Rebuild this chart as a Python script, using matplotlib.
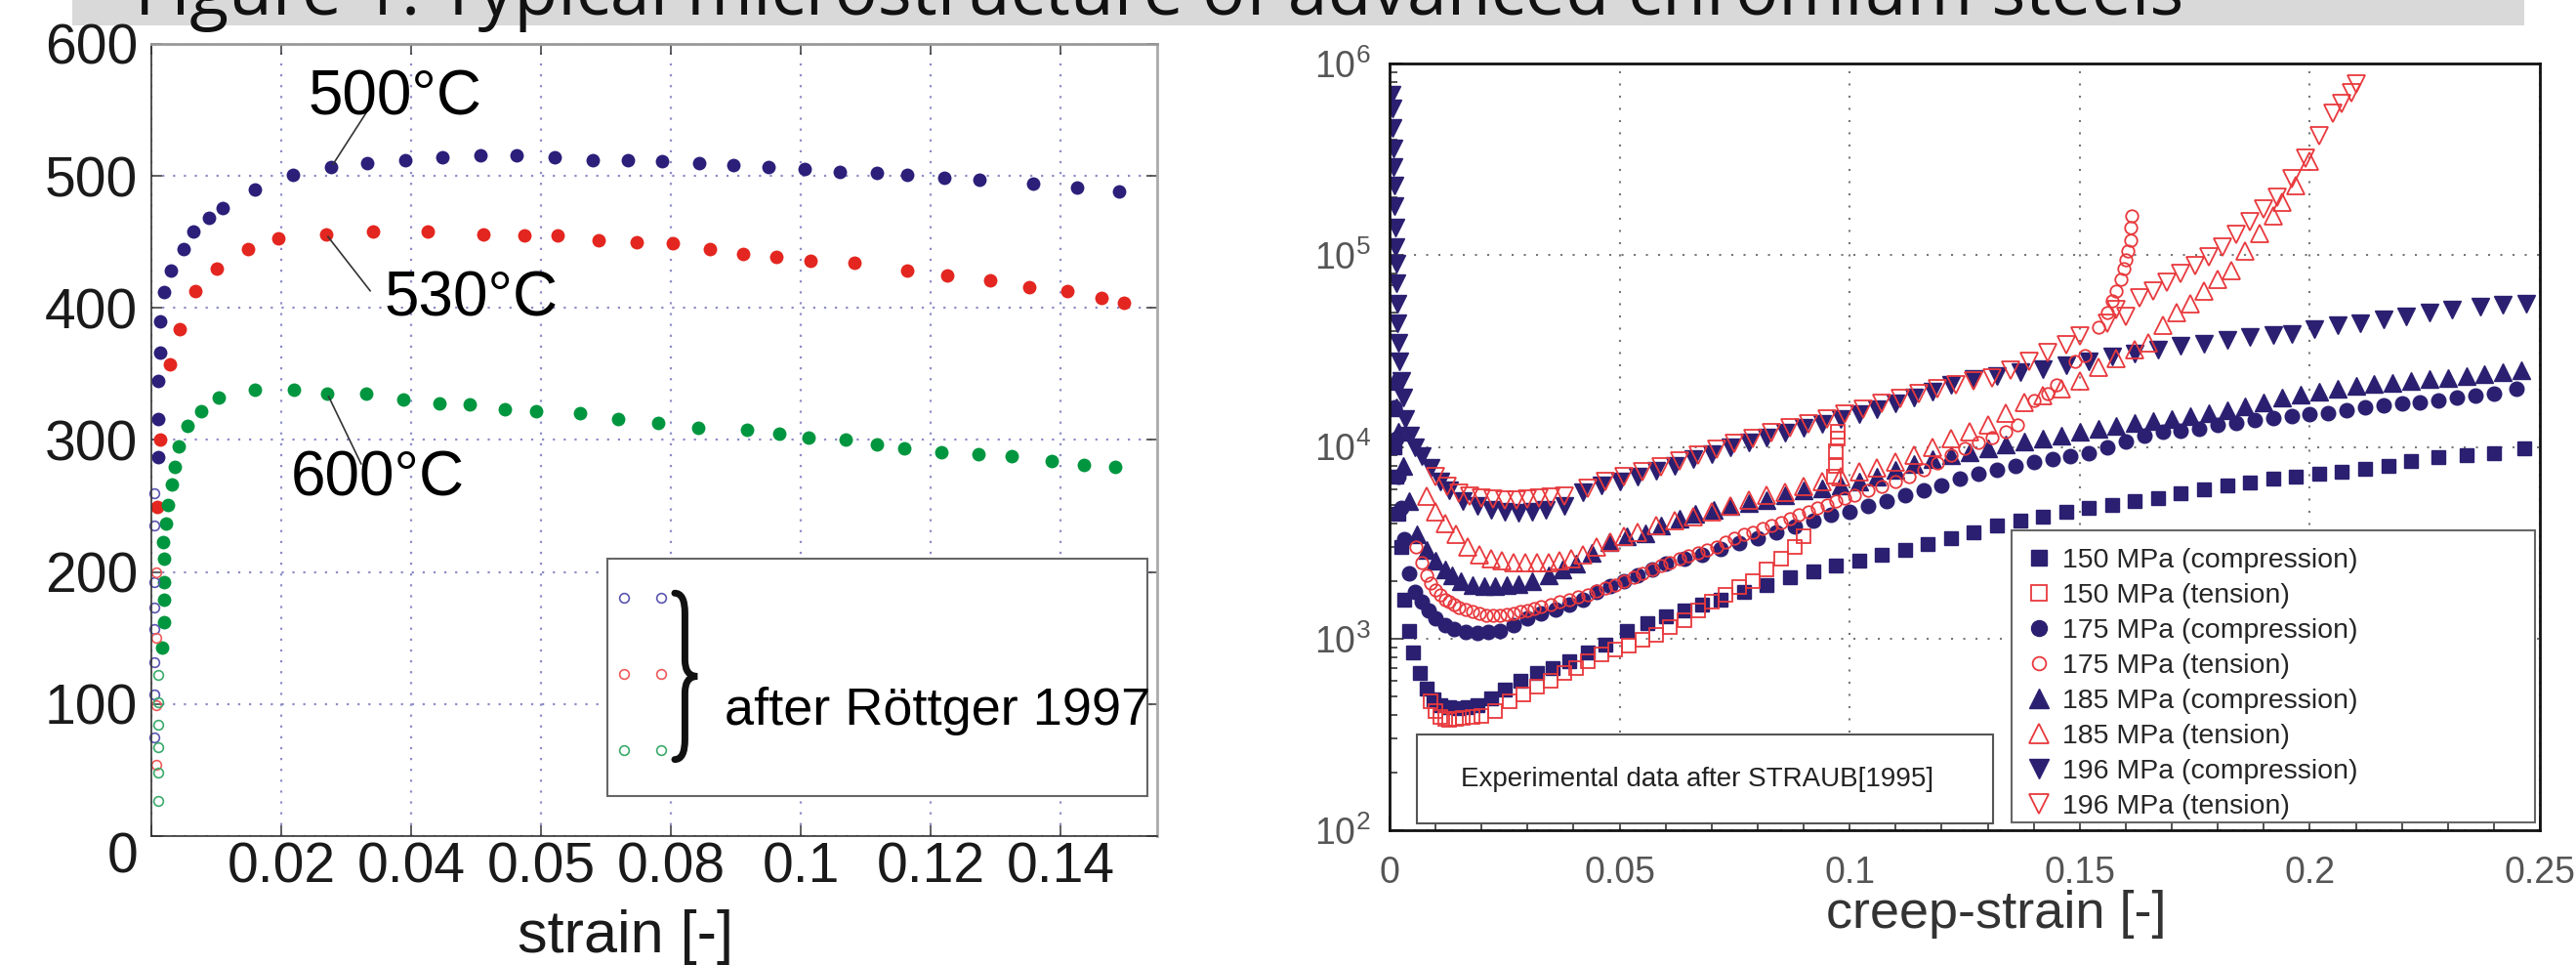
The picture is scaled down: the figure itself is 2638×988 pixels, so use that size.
import matplotlib
matplotlib.use("Agg")
import matplotlib.pyplot as plt
from matplotlib.patches import Rectangle, PathPatch
from matplotlib.path import Path
from matplotlib.ticker import MultipleLocator, LogLocator, NullFormatter
from matplotlib.transforms import ScaledTranslation

W, H, DPI = 2638, 988, 100
plt.rcParams["font.family"] = ["Liberation Sans", "DejaVu Sans"]
plt.rcParams["mathtext.fontset"] = "custom"
plt.rcParams["mathtext.rm"] = "Liberation Sans"
plt.rcParams["mathtext.it"] = "Liberation Sans:italic"

TITLE = "Figure 1: Typical microstructure of advanced chromium steels"

# ---------------- left panel: stress-strain curves ----------------
strain_500 = [0.0010, 0.0010, 0.0010, 0.0013, 0.0013, 0.0019, 0.0030, 0.0049, 0.0065, 0.0089,
              0.0110, 0.0160, 0.0218, 0.0277, 0.0332, 0.0391, 0.0448, 0.0507, 0.0563, 0.0621,
              0.0680, 0.0734, 0.0786, 0.0844, 0.0896, 0.0950, 0.1006, 0.1060, 0.1117, 0.1164,
              0.1221, 0.1275, 0.1358, 0.1426, 0.1490]
stress_500 = [287, 316, 345, 366, 390, 412, 428, 445, 458, 468,
              476, 490, 501, 507, 510, 512, 514, 516, 516, 514,
              512, 512, 511, 510, 508, 507, 505, 503, 502, 501,
              499, 497, 494, 491, 488]

strain_530 = [0.0009, 0.0013, 0.0029, 0.0044, 0.0068, 0.0101, 0.0149, 0.0195, 0.0269, 0.0341,
              0.0425, 0.0511, 0.0574, 0.0626, 0.0689, 0.0747, 0.0803, 0.0860, 0.0911, 0.0962,
              0.1015, 0.1083, 0.1164, 0.1226, 0.1292, 0.1352, 0.1410, 0.1463, 0.1498]
stress_530 = [249, 300, 357, 384, 413, 430, 445, 453, 456, 458,
              458, 456, 455, 455, 451, 450, 449, 445, 441, 439,
              436, 434, 428, 425, 421, 416, 413, 408, 404]

strain_600 = [0.0017, 0.0020, 0.0020, 0.0020, 0.0020, 0.0018, 0.0022, 0.0025, 0.0032, 0.0036,
              0.0042, 0.0055, 0.0077, 0.0104, 0.0160, 0.0219, 0.0270, 0.0331, 0.0388, 0.0443,
              0.0490, 0.0544, 0.0593, 0.0660, 0.0719, 0.0780, 0.0842, 0.0917, 0.0967, 0.1012,
              0.1070, 0.1117, 0.1160, 0.1217, 0.1274, 0.1325, 0.1387, 0.1436, 0.1484]
stress_600 = [143, 162, 179, 192, 210, 223, 237, 251, 266, 280,
              295, 311, 322, 332, 338, 338, 335, 335, 331, 328,
              327, 323, 322, 320, 316, 313, 309, 308, 305, 302,
              300, 297, 294, 291, 289, 288, 284, 281, 280]

# open circles (after Roettger 1997)
roe_500_strain = [0.0005, 0.0005, 0.0005, 0.0005, 0.0005, 0.0005, 0.0005, 0.0005]
roe_500_stress = [260, 235, 192, 173, 157, 132, 107, 75]
roe_530_strain = [0.0007, 0.0007, 0.0007, 0.0007]
roe_530_stress = [200, 150, 99, 54]
roe_600_strain = [0.0010, 0.0010, 0.0010, 0.0010, 0.0010, 0.0010]
roe_600_stress = [122, 101, 84, 67, 48, 27]

left_yticks = [0, 100, 200, 300, 400, 500, 600]
left_xticks = [0, 0.02, 0.04, 0.06, 0.08, 0.10, 0.12, 0.14]
left_xticklabels = ["", "0.02", "0.04", "0.05", "0.08", "0.1", "0.12", "0.14"]

# ---------------- right panel: creep curves ----------------
c150_x = [0.0010, 0.0015, 0.0020, 0.0025, 0.0032, 0.0042, 0.0051, 0.0066, 0.0080, 0.0095,
          0.0110, 0.0130, 0.0150, 0.0170, 0.0190, 0.0220, 0.0250, 0.0285, 0.0320, 0.0355,
          0.0390, 0.0430, 0.0470, 0.0515, 0.0560, 0.0600, 0.0640, 0.0680, 0.0720, 0.0770,
          0.0820, 0.0870, 0.0920, 0.0970, 0.1020, 0.1070, 0.1120, 0.1170, 0.1220, 0.1270,
          0.1320, 0.1370, 0.1420, 0.1470, 0.1520, 0.1570, 0.1620, 0.1670, 0.1720, 0.1770,
          0.1820, 0.1870, 0.1920, 0.1970, 0.2020, 0.2070, 0.2120, 0.2170, 0.2220, 0.2280,
          0.2340, 0.2400, 0.2465]
c150_y = [1.0e4, 7.0e3, 4.5e3, 3.0e3, 1.6e3, 1.1e3, 850, 660, 550, 480,
          450, 440, 435, 440, 450, 490, 540, 600, 660, 700,
          760, 850, 930, 1.1e3, 1.2e3, 1.3e3, 1.4e3, 1.5e3, 1.6e3, 1.75e3,
          1.9e3, 2.1e3, 2.25e3, 2.4e3, 2.55e3, 2.75e3, 2.9e3, 3.1e3, 3.35e3, 3.6e3,
          3.9e3, 4.1e3, 4.3e3, 4.6e3, 4.8e3, 5.0e3, 5.2e3, 5.4e3, 5.7e3, 6.0e3,
          6.3e3, 6.5e3, 6.8e3, 7.0e3, 7.2e3, 7.4e3, 7.7e3, 8.0e3, 8.4e3, 8.8e3,
          9.0e3, 9.3e3, 9.8e3]

t150_x = [0.0090, 0.0100, 0.0110, 0.0120, 0.0130, 0.0145, 0.0160, 0.0180, 0.0200, 0.0230,
          0.0260, 0.0290, 0.0320, 0.0350, 0.0380, 0.0405, 0.0430, 0.0460, 0.0490, 0.0520,
          0.0550, 0.0580, 0.0610, 0.0640, 0.0670, 0.0700, 0.0730, 0.0760, 0.0790, 0.0820,
          0.0850, 0.0880, 0.0900, 0.0965, 0.0970, 0.0970, 0.0975, 0.0975]
t150_y = [470, 420, 390, 380, 375, 380, 385, 390, 395, 420,
          470, 510, 560, 600, 660, 700, 760, 830, 880, 920,
          980, 1050, 1150, 1250, 1400, 1550, 1700, 1850, 2000, 2300,
          2600, 3000, 3400, 7000, 8000, 9500, 11000, 12000]

c175_x = [0.0010, 0.0015, 0.0020, 0.0025, 0.0032, 0.0042, 0.0055, 0.0070, 0.0085, 0.0100,
          0.0120, 0.0140, 0.0165, 0.0190, 0.0215, 0.0240, 0.0270, 0.0300, 0.0330, 0.0360,
          0.0390, 0.0420, 0.0450, 0.0480, 0.0510, 0.0540, 0.0570, 0.0600, 0.0640, 0.0680,
          0.0720, 0.0760, 0.0800, 0.0840, 0.0880, 0.0920, 0.0960, 0.1000, 0.1040, 0.1080,
          0.1120, 0.1160, 0.1200, 0.1240, 0.1280, 0.1320, 0.1360, 0.1400, 0.1440, 0.1480,
          0.1520, 0.1560, 0.1600, 0.1640, 0.1680, 0.1720, 0.1760, 0.1800, 0.1840, 0.1880,
          0.1920, 0.1960, 0.2000, 0.2040, 0.2080, 0.2120, 0.2160, 0.2200, 0.2240, 0.2280,
          0.2320, 0.2360, 0.2400, 0.2450]
c175_y = [1.6e4, 1.1e4, 7.0e3, 4.8e3, 3.3e3, 2.2e3, 1.75e3, 1.55e3, 1.4e3, 1.28e3,
          1.18e3, 1.12e3, 1.08e3, 1.07e3, 1.08e3, 1.1e3, 1.18e3, 1.27e3, 1.35e3, 1.42e3,
          1.5e3, 1.6e3, 1.75e3, 1.88e3, 2.0e3, 2.15e3, 2.3e3, 2.45e3, 2.6e3, 2.75e3,
          2.95e3, 3.15e3, 3.35e3, 3.6e3, 3.85e3, 4.1e3, 4.4e3, 4.6e3, 4.9e3, 5.2e3,
          5.6e3, 5.9e3, 6.3e3, 6.8e3, 7.2e3, 7.6e3, 8.0e3, 8.3e3, 8.6e3, 8.9e3,
          9.3e3, 1.0e4, 1.07e4, 1.15e4, 1.2e4, 1.22e4, 1.24e4, 1.3e4, 1.34e4, 1.38e4,
          1.42e4, 1.45e4, 1.48e4, 1.5e4, 1.55e4, 1.6e4, 1.65e4, 1.68e4, 1.7e4, 1.75e4,
          1.8e4, 1.85e4, 1.9e4, 2.0e4]

t175_x = [0.0057, 0.0070, 0.0080, 0.0090, 0.0100, 0.0110, 0.0120, 0.0130, 0.0140, 0.0150,
          0.0165, 0.0180, 0.0195, 0.0210, 0.0225, 0.0240, 0.0255, 0.0270, 0.0285, 0.0300,
          0.0315, 0.0330, 0.0350, 0.0370, 0.0390, 0.0410, 0.0430, 0.0450, 0.0470, 0.0490,
          0.0510, 0.0530, 0.0550, 0.0570, 0.0590, 0.0610, 0.0630, 0.0650, 0.0670, 0.0690,
          0.0710, 0.0730, 0.0750, 0.0770, 0.0790, 0.0810, 0.0830, 0.0850, 0.0870, 0.0890,
          0.0910, 0.0930, 0.0950, 0.0970, 0.0990, 0.1010, 0.1040, 0.1070, 0.1100, 0.1130,
          0.1160, 0.1190, 0.1220, 0.1250, 0.1280, 0.1310, 0.1340, 0.1365, 0.1400, 0.1430,
          0.1450, 0.1490, 0.1510, 0.1540, 0.1560, 0.1570, 0.1580, 0.1590, 0.1595, 0.1600,
          0.1605, 0.1610, 0.1610, 0.1612]
t175_y = [3.0e3, 2.5e3, 2.15e3, 1.95e3, 1.8e3, 1.7e3, 1.6e3, 1.55e3, 1.5e3, 1.45e3,
          1.42e3, 1.38e3, 1.35e3, 1.32e3, 1.32e3, 1.32e3, 1.33e3, 1.35e3, 1.38e3, 1.4e3,
          1.43e3, 1.46e3, 1.5e3, 1.55e3, 1.6e3, 1.65e3, 1.7e3, 1.77e3, 1.83e3, 1.9e3,
          2.0e3, 2.1e3, 2.2e3, 2.3e3, 2.4e3, 2.5e3, 2.6e3, 2.7e3, 2.8e3, 2.9e3,
          3.0e3, 3.2e3, 3.35e3, 3.5e3, 3.6e3, 3.75e3, 3.9e3, 4.05e3, 4.2e3, 4.4e3,
          4.6e3, 4.8e3, 5.0e3, 5.2e3, 5.4e3, 5.6e3, 5.9e3, 6.2e3, 6.6e3, 7.0e3,
          7.6e3, 8.2e3, 9.0e3, 9.8e3, 1.05e4, 1.12e4, 1.2e4, 1.3e4, 1.75e4, 1.9e4,
          2.1e4, 2.8e4, 3.0e4, 4.2e4, 5.0e4, 5.8e4, 6.5e4, 7.5e4, 8.5e4, 9.5e4,
          1.05e5, 1.2e5, 1.4e5, 1.6e5]

c185_x = [0.0010, 0.0015, 0.0020, 0.0030, 0.0042, 0.0060, 0.0080, 0.0100, 0.0120, 0.0136,
          0.0155, 0.0180, 0.0205, 0.0230, 0.0255, 0.0280, 0.0310, 0.0345, 0.0375, 0.0405,
          0.0440, 0.0477, 0.0515, 0.0555, 0.0590, 0.0630, 0.0665, 0.0705, 0.0740, 0.0780,
          0.0820, 0.0860, 0.0900, 0.0940, 0.0980, 0.1020, 0.1060, 0.1100, 0.1140, 0.1180,
          0.1220, 0.1260, 0.1300, 0.1340, 0.1380, 0.1420, 0.1460, 0.1500, 0.1540, 0.1580,
          0.1620, 0.1660, 0.1700, 0.1740, 0.1780, 0.1820, 0.1860, 0.1900, 0.1940, 0.1980,
          0.2020, 0.2060, 0.2100, 0.2140, 0.2180, 0.2220, 0.2260, 0.2300, 0.2340, 0.2380,
          0.2420, 0.2460]
c185_y = [2.2e4, 1.6e4, 1.2e4, 8.0e3, 5.2e3, 3.5e3, 2.9e3, 2.55e3, 2.3e3, 2.15e3,
          2.0e3, 1.9e3, 1.87e3, 1.87e3, 1.9e3, 1.93e3, 2.0e3, 2.15e3, 2.3e3, 2.45e3,
          2.8e3, 3.2e3, 3.4e3, 3.55e3, 3.9e3, 4.2e3, 4.5e3, 4.7e3, 4.9e3, 5.1e3,
          5.3e3, 5.6e3, 5.9e3, 6.1e3, 6.3e3, 6.6e3, 7.0e3, 7.6e3, 8.1e3, 8.6e3,
          9.0e3, 9.4e3, 9.8e3, 1.03e4, 1.07e4, 1.1e4, 1.15e4, 1.2e4, 1.24e4, 1.28e4,
          1.33e4, 1.37e4, 1.4e4, 1.45e4, 1.5e4, 1.55e4, 1.62e4, 1.7e4, 1.8e4, 1.88e4,
          1.95e4, 2.02e4, 2.08e4, 2.12e4, 2.15e4, 2.2e4, 2.25e4, 2.3e4, 2.35e4, 2.4e4,
          2.45e4, 2.5e4]

t185_x = [0.0080, 0.0100, 0.0120, 0.0145, 0.0170, 0.0195, 0.0220, 0.0245, 0.0270, 0.0295,
          0.0320, 0.0345, 0.0370, 0.0395, 0.0420, 0.0450, 0.0480, 0.0510, 0.0540, 0.0580,
          0.0620, 0.0660, 0.0700, 0.0740, 0.0780, 0.0820, 0.0860, 0.0900, 0.0940, 0.0980,
          0.1020, 0.1060, 0.1100, 0.1140, 0.1180, 0.1220, 0.1260, 0.1300, 0.1340, 0.1380,
          0.1420, 0.1460, 0.1500, 0.1540, 0.1580, 0.1620, 0.1650, 0.1680, 0.1710, 0.1740,
          0.1770, 0.1800, 0.1830, 0.1860, 0.1890, 0.1920, 0.1940, 0.1970, 0.2000]
t185_y = [5.5e3, 4.6e3, 4.0e3, 3.5e3, 3.0e3, 2.75e3, 2.6e3, 2.55e3, 2.5e3, 2.5e3,
          2.5e3, 2.5e3, 2.55e3, 2.6e3, 2.75e3, 3.0e3, 3.2e3, 3.4e3, 3.6e3, 3.9e3,
          4.1e3, 4.3e3, 4.6e3, 4.9e3, 5.3e3, 5.6e3, 5.8e3, 6.2e3, 6.6e3, 7.0e3,
          7.4e3, 7.8e3, 8.3e3, 9.0e3, 1.0e4, 1.1e4, 1.2e4, 1.3e4, 1.5e4, 1.7e4,
          1.85e4, 2.0e4, 2.2e4, 2.6e4, 2.9e4, 3.2e4, 3.5e4, 4.3e4, 5.0e4, 5.6e4,
          6.5e4, 7.5e4, 8.3e4, 1.05e5, 1.3e5, 1.6e5, 1.9e5, 2.3e5, 3.1e5]

c196_x = [0.0004, 0.0006, 0.0007, 0.0008, 0.0009, 0.0010, 0.0011, 0.0012, 0.0013, 0.0014,
          0.0015, 0.0016, 0.0018, 0.0020, 0.0022, 0.0025, 0.0030, 0.0035, 0.0045, 0.0055,
          0.0070, 0.0090, 0.0110, 0.0130, 0.0160, 0.0190, 0.0220, 0.0250, 0.0280, 0.0310,
          0.0340, 0.0380, 0.0420, 0.0460, 0.0500, 0.0540, 0.0580, 0.0620, 0.0660, 0.0700,
          0.0740, 0.0780, 0.0820, 0.0860, 0.0900, 0.0940, 0.0980, 0.1020, 0.1060, 0.1100,
          0.1140, 0.1180, 0.1220, 0.1270, 0.1320, 0.1370, 0.1420, 0.1470, 0.1520, 0.1570,
          0.1620, 0.1670, 0.1720, 0.1770, 0.1820, 0.1870, 0.1920, 0.1960, 0.2010, 0.2060,
          0.2110, 0.2160, 0.2210, 0.2260, 0.2310, 0.2370, 0.2420, 0.2470]
c196_y = [6.9e5, 5.8e5, 4.6e5, 3.6e5, 2.9e5, 2.3e5, 1.8e5, 1.4e5, 1.1e5, 9.0e4,
          7.1e4, 5.6e4, 4.4e4, 3.5e4, 2.8e4, 2.2e4, 1.8e4, 1.4e4, 1.15e4, 1.0e4,
          8.9e3, 7.8e3, 6.6e3, 5.9e3, 5.2e3, 4.9e3, 4.7e3, 4.6e3, 4.55e3, 4.6e3,
          4.7e3, 4.9e3, 5.8e3, 6.3e3, 6.6e3, 7.0e3, 7.5e3, 8.0e3, 8.6e3, 9.2e3,
          9.9e3, 1.06e4, 1.12e4, 1.19e4, 1.25e4, 1.32e4, 1.39e4, 1.48e4, 1.58e4, 1.68e4,
          1.8e4, 1.95e4, 2.1e4, 2.25e4, 2.35e4, 2.45e4, 2.55e4, 2.65e4, 2.8e4, 2.95e4,
          3.05e4, 3.2e4, 3.35e4, 3.45e4, 3.6e4, 3.75e4, 3.85e4, 3.9e4, 4.1e4, 4.3e4,
          4.4e4, 4.6e4, 4.8e4, 5.0e4, 5.2e4, 5.4e4, 5.5e4, 5.6e4]

t196_x = [0.0100, 0.0125, 0.0150, 0.0175, 0.0200, 0.0225, 0.0250, 0.0275, 0.0300, 0.0325,
          0.0350, 0.0380, 0.0430, 0.0470, 0.0510, 0.0550, 0.0590, 0.0630, 0.0670, 0.0710,
          0.0750, 0.0790, 0.0830, 0.0870, 0.0910, 0.0950, 0.0990, 0.1030, 0.1070, 0.1110,
          0.1150, 0.1190, 0.1230, 0.1270, 0.1310, 0.1350, 0.1390, 0.1430, 0.1470, 0.1500,
          0.1560, 0.1580, 0.1600, 0.1630, 0.1660, 0.1690, 0.1720, 0.1750, 0.1780, 0.1810,
          0.1840, 0.1870, 0.1900, 0.1930, 0.1960, 0.1990, 0.2020, 0.2050, 0.2070, 0.2090,
          0.2100]
t196_y = [7.0e3, 6.2e3, 5.7e3, 5.5e3, 5.4e3, 5.35e3, 5.3e3, 5.3e3, 5.35e3, 5.4e3,
          5.45e3, 5.5e3, 6.1e3, 6.6e3, 7.0e3, 7.4e3, 7.9e3, 8.4e3, 9.0e3, 9.7e3,
          1.04e4, 1.11e4, 1.18e4, 1.25e4, 1.32e4, 1.4e4, 1.48e4, 1.58e4, 1.68e4, 1.78e4,
          1.9e4, 2.0e4, 2.1e4, 2.2e4, 2.3e4, 2.5e4, 2.8e4, 3.1e4, 3.4e4, 3.8e4,
          4.4e4, 5.2e4, 4.8e4, 6.0e4, 6.5e4, 7.2e4, 8.0e4, 8.8e4, 9.8e4, 1.1e5,
          1.28e5, 1.5e5, 1.75e5, 2.0e5, 2.5e5, 3.2e5, 4.2e5, 5.5e5, 6.2e5, 7.0e5,
          7.8e5]

right_xticks = [0, 0.05, 0.1, 0.15, 0.2, 0.25]
right_xticklabels = ["0", "0.05", "0.1", "0.15", "0.2", "0.25"]

NAVY = "#2a1f70"
RED = "#e8393d"
BLUE = "#2b1f7a"
RED_L = "#e3261f"
GREEN = "#00963f"

fig = plt.figure(figsize=(W / DPI, H / DPI), dpi=DPI)


def px_axes(x0, y0, x1, y1):
    return fig.add_axes([x0 / W, 1 - y1 / H, (x1 - x0) / W, (y1 - y0) / H])


# ---- title band (text clipped by the top edge like the original)
fig.add_artist(Rectangle((74 / W, 1 - 26 / H), (2585 - 74) / W, 26 / H + 0.01,
                         transform=fig.transFigure, facecolor="#d9d9d9",
                         edgecolor="none", zorder=0))
title = fig.text(138 / W, 1 - 15 / H, TITLE, family="Open Sans", fontsize=44,
                 va="baseline", color="#111111", zorder=1)
fig.canvas.draw()
bb = title.get_window_extent()
title.set_fontsize(44 * 2098 / bb.width)

# ---------------- left axes ----------------
axL = px_axes(155, 45, 1185, 856)
axL.set_xlim(0, 0.1549)
axL.set_ylim(0, 600)
axL.set_axisbelow(True)
axL.grid(True, ls=(0, (1, 4)), color="#8c8cc8", lw=1.6)

axL.plot(strain_500, stress_500, "o", color=BLUE, ms=10, mec="none")
axL.plot(strain_530, stress_530, "o", color=RED_L, ms=10, mec="none")
axL.plot(strain_600, stress_600, "o", color=GREEN, ms=10, mec="none")
axL.plot(roe_500_strain, roe_500_stress, "o", mfc="none", mec="#5a55b0", ms=7, mew=1.2, clip_on=False)
axL.plot(roe_530_strain, roe_530_stress, "o", mfc="none", mec="#ef5a5a", ms=7, mew=1.2, clip_on=False)
axL.plot(roe_600_strain, roe_600_stress, "o", mfc="none", mec="#3aaa6a", ms=7, mew=1.2, clip_on=False)

# temperature labels with leader lines
axL.text(0.0241, 546, "500°C", fontsize=46, va="baseline")
axL.plot([0.0280, 0.0331], [509, 548], color="#333333", lw=1.2)
axL.text(0.0358, 394, "530°C", fontsize=46, va="baseline")
axL.plot([0.0272, 0.0337], [454, 413], color="#333333", lw=1.2)
axL.text(0.0214, 258, "600°C", fontsize=46, va="baseline")
axL.plot([0.0273, 0.0323], [333, 282], color="#333333", lw=1.2)

# "after Roettger" box
axL.add_patch(Rectangle((0.0702, 30), 0.1534 - 0.0702, 180, facecolor="white",
                        edgecolor="#666666", lw=1.5, zorder=3))
for yy, col in [(180.5, "#5a55b0"), (122.8, "#ef5a5a"), (65, "#3aaa6a")]:
    axL.plot([0.0728, 0.0785], [yy, yy], "o", mfc="none", mec=col, ms=7, mew=1.2, zorder=4)
bx0, bx1, by0, by1 = 0.0806, 0.0841, 58, 184
bm, bh = (by0 + by1) / 2, by1 - by0
bxm = bx0 + 0.45 * (bx1 - bx0)
verts = [(bx0, by1), (bxm, by1), (bxm, by1 - 0.12 * bh), (bxm, bm + 0.1 * bh),
         (bxm, bm), (bx1, bm), (bxm, bm), (bxm, bm - 0.1 * bh), (bxm, by0 + 0.12 * bh),
         (bxm, by0), (bx0, by0)]
codes = [Path.MOVETO, Path.CURVE3, Path.CURVE3, Path.LINETO, Path.CURVE3, Path.CURVE3,
         Path.CURVE3, Path.CURVE3, Path.LINETO, Path.CURVE3, Path.CURVE3]
axL.add_patch(PathPatch(Path(verts, codes), fill=False, lw=5, color="#111111",
                        capstyle="round", zorder=4))
axL.text(0.0883, 84, "after Röttger 1997", fontsize=39, va="baseline", zorder=5, clip_on=False)

axL.set_xticks(left_xticks)
axL.set_xticklabels(left_xticklabels)
axL.set_yticks(left_yticks)
axL.set_yticklabels([str(v) for v in left_yticks])
axL.tick_params(direction="in", length=8, width=1.2, color="#444444", top=True, right=True,
                labelsize=41, labelcolor="#1a1a1a")
axL.tick_params(axis="x", pad=4)
axL.tick_params(axis="y", pad=10)
zero_lab = axL.get_yticklabels()[0]
zero_lab.set_transform(zero_lab.get_transform() + ScaledTranslation(0, -0.17, fig.dpi_scale_trans))
for side, col, lw in [("left", "#333333", 1.2), ("bottom", "#333333", 1.2),
                      ("top", "#999999", 2.0), ("right", "#aaaaaa", 2.0)]:
    axL.spines[side].set_color(col)
    axL.spines[side].set_linewidth(lw)
fig.text(641 / W, (988 - 975) / H, "strain [-]", fontsize=44, ha="center",
         va="baseline", color="#1a1a1a")

# ---------------- right axes ----------------
axR = px_axes(1423, 65, 2601, 850)
axR.set_yscale("log")
axR.set_xlim(0, 0.25)
axR.set_ylim(1e2, 1e6)
axR.set_axisbelow(True)
axR.grid(True, which="major", ls=(0, (1, 5)), color="#777777", lw=1.5)

series = [
    (c150_x, c150_y, "s", True, 10, "150 MPa (compression)"),
    (t150_x, t150_y, "s", False, 10, "150 MPa (tension)"),
    (c175_x, c175_y, "o", True, 10.5, "175 MPa (compression)"),
    (t175_x, t175_y, "o", False, 9, "175 MPa (tension)"),
    (c185_x, c185_y, "^", True, 12.5, "185 MPa (compression)"),
    (t185_x, t185_y, "^", False, 12.5, "185 MPa (tension)"),
    (c196_x, c196_y, "v", True, 12.5, "196 MPa (compression)"),
    (t196_x, t196_y, "v", False, 12.5, "196 MPa (tension)"),
]
handles = []
for xs, ys, mk, filled, ms, lab in series:
    if filled:
        h, = axR.plot(xs, ys, mk, color=NAVY, mec=NAVY, ms=ms, label=lab, zorder=2)
    else:
        h, = axR.plot(xs, ys, mk, mfc="none", mec=RED, mew=1.3, ms=ms, label=lab, zorder=3)
    handles.append(h)

axR.set_xticks(right_xticks)
axR.set_xticklabels(right_xticklabels)
axR.xaxis.set_minor_locator(MultipleLocator(0.01))
axR.yaxis.set_major_locator(LogLocator(base=10, numticks=10))
axR.yaxis.set_minor_locator(LogLocator(base=10, subs=range(2, 10), numticks=20))
axR.yaxis.set_minor_formatter(NullFormatter())
axR.tick_params(which="both", direction="in", color="#333333", width=1.2)
axR.tick_params(which="major", length=10, labelsize=27, labelcolor="#555555")
axR.tick_params(which="minor", length=6)
axR.tick_params(axis="x", pad=19)
axR.tick_params(axis="y", pad=14)
for s in axR.spines.values():
    s.set_linewidth(2)
    s.set_color("#111111")

# text box
axR.add_patch(Rectangle((1451 / W, 1 - 843 / H), 590 / W, 91 / H, transform=fig.transFigure,
                        facecolor="white", edgecolor="#555555", lw=1.5, zorder=4, clip_on=False))
axR.text(1496 / W, 1 - 798 / H, "Experimental data after STRAUB[1995]", transform=fig.transFigure,
         fontsize=20, va="center", color="#222222", zorder=5)

# legend box
axR.add_patch(Rectangle((2060 / W, 1 - 842 / H), 536 / W, 299 / H, transform=fig.transFigure,
                        facecolor="white", edgecolor="#666666", lw=1.5, zorder=4, clip_on=False))
leg = axR.legend(handles=handles, loc="upper left", bbox_to_anchor=(2077 / W, 1 - 561 / H),
                 bbox_transform=fig.transFigure, frameon=False, fontsize=20.5,
                 handlelength=0.8, handletextpad=0.44, labelspacing=0.35, borderpad=0,
                 borderaxespad=0, markerscale=1.1)
leg.set_zorder(6)
for t in leg.get_texts():
    t.set_color("#262626")

fig.text(2044 / W, 1 - 950 / H, "creep-strain [-]", fontsize=39, ha="center",
         va="baseline", color="#333333")

fig.savefig("out.png", dpi=DPI)
